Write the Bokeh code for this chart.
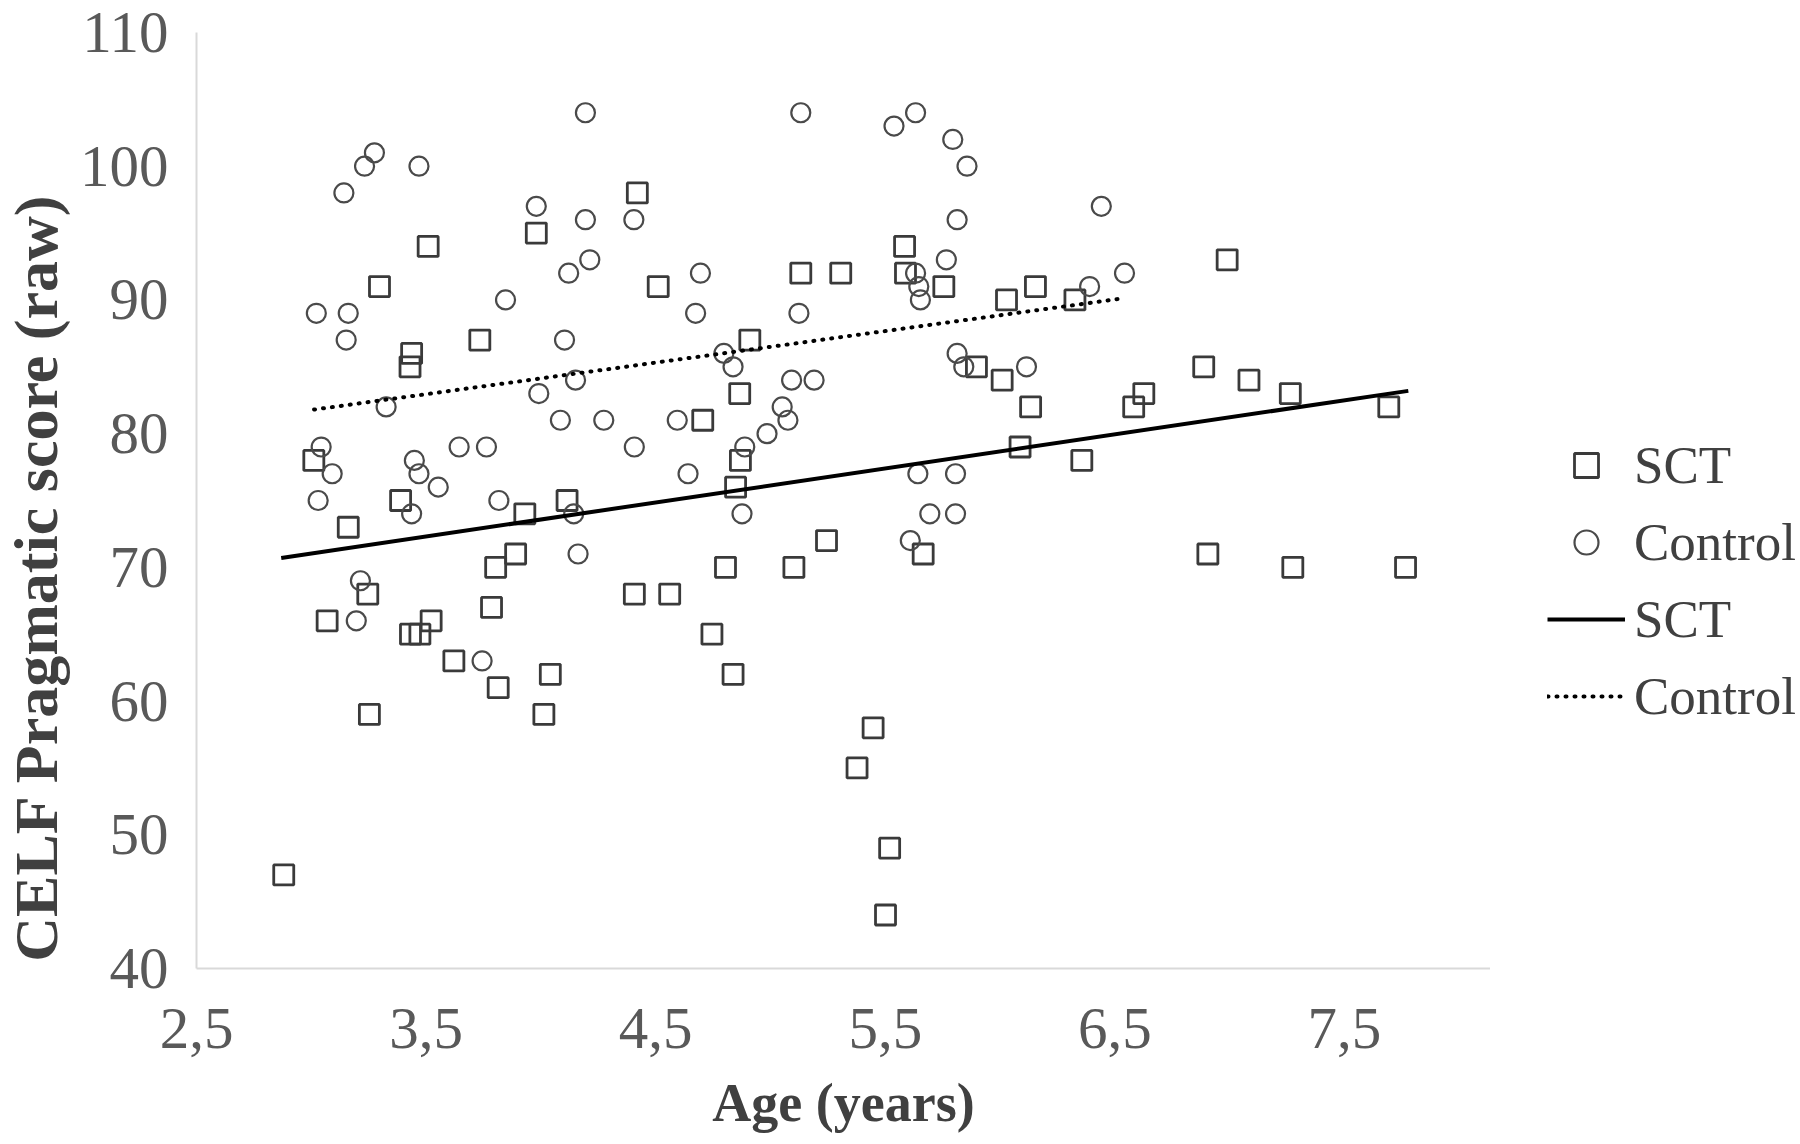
import math
from bokeh.plotting import figure
from bokeh.layouts import row
from bokeh.models import Range1d, FixedTicker, Legend, LegendItem, Label, ColumnDataSource
from bokeh.embed import file_html
from bokeh.resources import INLINE

# ---------------- data ----------------
sct_age = [3.509, 3.980, 3.297, 3.734, 3.437, 3.430, 4.420, 5.584, 4.511, 5.132,
           5.306, 5.588, 5.755, 6.028, 6.154, 4.910, 5.897, 6.009, 4.866, 6.133,
           4.705, 6.326, 6.989, 6.887, 7.084, 7.264, 6.582, 6.626, 7.693, 3.011,
           3.161, 3.389, 3.930, 4.114, 3.890, 3.803, 3.246, 3.069, 3.522, 3.432,
           3.473, 3.785, 3.621, 3.814, 4.041, 3.253, 4.013, 4.869, 4.848, 6.087,
           5.244, 4.804, 5.102, 5.665, 4.407, 4.561, 4.745, 4.837, 5.447, 6.356,
           6.905, 7.275, 7.766, 2.880, 5.377, 5.519, 5.501]
sct_score = [94, 95, 91, 87, 86, 85, 98, 94, 91, 92,
             92, 92, 91, 90, 91, 87, 85, 84, 83, 82,
             81, 90, 93, 85, 84, 83, 82, 83, 82, 78,
             73, 75, 74, 75, 71, 70, 68, 66, 66, 65,
             65, 67, 63, 61, 62, 59, 59, 78, 76, 79,
             72, 70, 70, 71, 68, 68, 65, 62, 58, 78,
             71, 70, 70, 47, 55, 49, 44]

ctrl_age = [4.194, 3.275, 3.232, 3.469, 3.142, 3.980, 4.194, 4.213, 4.121, 3.846,
            3.022, 3.161, 3.152, 4.103, 4.151, 3.991, 3.326, 4.085, 4.274, 5.132,
            5.632, 5.538, 5.794, 5.856, 4.405, 5.813, 5.766, 4.695, 5.632, 5.646,
            5.653, 4.674, 5.124, 4.797, 4.837, 5.813, 5.842, 6.115, 5.092, 5.190,
            5.051, 5.076, 4.594, 6.441, 6.542, 6.390, 3.043, 3.091, 3.030, 3.449,
            3.469, 3.553, 3.644, 3.763, 3.437, 3.817, 4.143, 4.162, 3.214, 3.196,
            3.744, 4.985, 4.407, 4.888, 4.641, 4.876, 5.642, 5.806, 5.694, 5.806,
            5.609]
ctrl_score = [104, 101, 100, 100, 98, 97, 96, 93, 92, 90,
              89, 89, 87, 87, 84, 83, 82, 81, 81, 104,
              104, 103, 102, 100, 96, 96, 93, 92, 92, 91,
              90, 89, 89, 86, 85, 86, 85, 85, 84, 84,
              82, 81, 81, 97, 92, 91, 79, 77, 75, 78,
              77, 76, 79, 79, 74, 75, 74, 71, 69, 66,
              63, 80, 79, 79, 77, 74, 77, 77, 74, 74,
              72]

sct_fit_age = [2.869, 7.778]
sct_fit_score = [70.7, 83.2]
ctrl_fit_age = [3.012, 6.528]
ctrl_fit_score = [81.8, 90.1]

x_ticks = [2.5, 3.5, 4.5, 5.5, 6.5, 7.5]
x_tick_labels = ["2,5", "3,5", "4,5", "5,5", "6,5", "7,5"]
y_ticks = [40, 50, 60, 70, 80, 90, 100, 110]
x_min, x_max = 2.5, 8.136
y_min, y_max = 40, 110

FONT = "Liberation Serif"
H = 1144
TOP, BOTTOM = 32, 176          # borders shared by all panels of the row

SQ = dict(marker="square", size=20, fill_color=None, line_color="#3a3a3a", line_width=2.8)
CI = dict(marker="circle", size=19, fill_color=None, line_color="#4a4a4a", line_width=2.2)
SOLID = dict(line_color="black", line_width=4)
DOTTED = dict(line_color="black", line_width=4, line_dash="1 8", line_cap="round")


def bare(width):
    # y data = pixels counted up from the page bottom
    f = figure(width=width, height=H, output_backend="svg", toolbar_location=None,
               x_axis_type=None, y_axis_type=None,
               x_range=Range1d(0, width), y_range=Range1d(BOTTOM, H - TOP),
               min_border_left=0, min_border_right=0,
               min_border_top=TOP, min_border_bottom=BOTTOM)
    f.outline_line_color = None
    f.grid.visible = False
    f.background_fill_color = "white"
    f.border_fill_color = "white"
    return f


# ---------------- left strip: y-axis title ----------------
left = bare(72)
left.add_layout(Label(x=35, y=H - 577, text="CELF Pragmatic score (raw)",
                      angle=math.pi / 2, text_align="center", text_baseline="middle",
                      text_font=FONT, text_font_style="bold", text_font_size="62px",
                      text_color="#404040"))

# ---------------- main chart ----------------
main = figure(width=1418, height=H, output_backend="svg", toolbar_location=None,
              x_range=Range1d(x_min, x_max), y_range=Range1d(y_min, y_max),
              min_border_left=124, min_border_right=0,
              min_border_top=TOP, min_border_bottom=BOTTOM)
main.outline_line_color = None
main.grid.visible = False
main.background_fill_color = "white"
main.border_fill_color = "white"

for ax in (main.xaxis[0], main.yaxis[0]):
    ax.axis_line_color = "#d9d9d9"
    ax.axis_line_width = 2
    ax.major_tick_line_color = None
    ax.minor_tick_line_color = None
    ax.major_tick_out = 0
    ax.major_tick_in = 0
    ax.major_label_text_font = FONT
    ax.major_label_text_color = "#595959"
    ax.major_label_text_font_size = "59px"

main.xaxis.ticker = FixedTicker(ticks=x_ticks)
main.xaxis.major_label_overrides = {t: l for t, l in zip(x_ticks, x_tick_labels)}
main.xaxis.major_label_standoff = 40
main.xaxis.axis_label = "Age (years)"
main.xaxis.axis_label_text_font = FONT
main.xaxis.axis_label_text_font_style = "bold"
main.xaxis.axis_label_text_font_size = "54px"
main.xaxis.axis_label_text_color = "#404040"
main.xaxis.axis_label_standoff = 22

main.yaxis.ticker = FixedTicker(ticks=y_ticks)
main.yaxis.major_label_standoff = 28

sct_src = ColumnDataSource(dict(x=sct_age, y=sct_score))
ctrl_src = ColumnDataSource(dict(x=ctrl_age, y=ctrl_score))
main.scatter("x", "y", source=sct_src, **SQ)
main.scatter("x", "y", source=ctrl_src, **CI)
main.line(sct_fit_age, sct_fit_score, **SOLID)
main.line(ctrl_fit_age, ctrl_fit_score, **DOTTED)

# ---------------- right strip: legend ----------------
right = bare(310)
nan = float("nan")
lg_sq = right.scatter([nan], [nan], **SQ)
lg_ci = right.scatter([nan], [nan], **CI)
lg_solid = right.line([nan, nan], [nan, nan], **SOLID)
lg_dot = right.line([nan, nan], [nan, nan], **DOTTED)
legend = Legend(items=[
    LegendItem(label="SCT", renderers=[lg_sq]),
    LegendItem(label="Control", renderers=[lg_ci]),
    LegendItem(label="SCT", renderers=[lg_solid]),
    LegendItem(label="Control", renderers=[lg_dot]),
], location=(57, (H - BOTTOM) - 726))
legend.border_line_color = None
legend.background_fill_alpha = 0
legend.padding = 0
legend.margin = 0
legend.spacing = 17
legend.glyph_width = 78
legend.glyph_height = 60
legend.label_height = 60
legend.label_standoff = 9
legend.label_text_font = FONT
legend.label_text_font_size = "53px"
legend.label_text_color = "#404040"
legend.label_text_baseline = "middle"
right.add_layout(legend)

p = row(left, main, right, spacing=0)

open("out.html", "w").write(file_html(p, INLINE))
